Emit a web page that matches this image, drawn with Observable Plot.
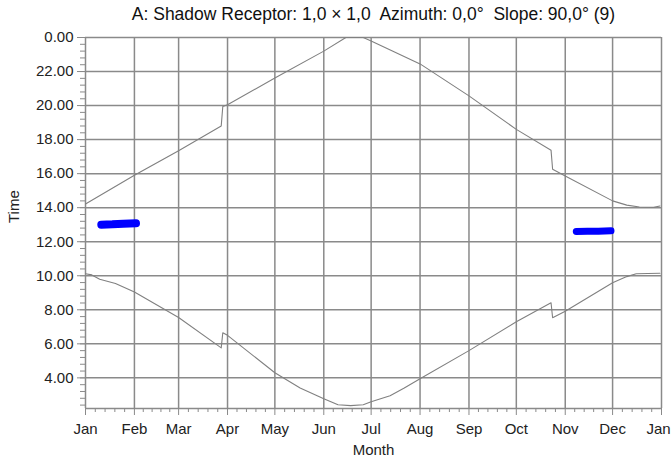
<!DOCTYPE html>
<html><head><meta charset="utf-8">
<script src="https://cdn.jsdelivr.net/npm/d3@7"></script>
<script src="https://cdn.jsdelivr.net/npm/@observablehq/plot@0.6"></script>
<style>
body{margin:0;background:#fff;}
#chart{width:672px;height:464px;}
</style>
</head><body><div id="chart"></div>
<script>
const titleText = "A: Shadow Receptor: 1,0 \u00d7 1,0  Azimuth: 0,0\u00b0  Slope: 90,0\u00b0 (9)";
const xLabel = "Month";
const yLabel = "Time";
const monthLabels = ["Jan","Feb","Mar","Apr","May","Jun","Jul","Aug","Sep","Oct","Nov","Dec","Jan"];
const monthStarts = ["2023-01-01","2023-02-01","2023-03-01","2023-04-01","2023-05-01","2023-06-01","2023-07-01","2023-08-01","2023-09-01","2023-10-01","2023-11-01","2023-12-01","2024-01-01"];
const yMajor = [4,6,8,10,12,14,16,18,20,22,24];
const yMajorLabels = ["4.00","6.00","8.00","10.00","12.00","14.00","16.00","18.00","20.00","22.00","0.00"];

// upper boundary (end time)
const upperDates = ["2023-01-01","2023-02-01","2023-03-01","2023-03-28","2023-03-29","2023-04-01","2023-05-01","2023-06-01","2023-06-15","2023-06-26","2023-07-01","2023-08-01","2023-09-01","2023-10-01","2023-10-23","2023-10-24","2023-11-01","2023-12-01","2023-12-10","2023-12-18","2023-12-27","2023-12-31"];
const upperTimes = [14.22,15.9,17.35,18.8,19.95,20.05,21.62,23.2,24,24,23.8,22.45,20.57,18.6,17.38,16.26,15.86,14.4,14.15,14.04,14.02,14.1];
// lower boundary (start time)
const lowerDates = ["2023-01-01","2023-01-05","2023-01-10","2023-01-20","2023-02-01","2023-03-01","2023-03-28","2023-03-29","2023-04-01","2023-05-01","2023-05-17","2023-06-01","2023-06-10","2023-06-18","2023-06-26","2023-07-01","2023-07-13","2023-07-22","2023-08-01","2023-09-01","2023-10-01","2023-10-23","2023-10-24","2023-11-01","2023-12-01","2023-12-10","2023-12-16","2023-12-31"];
const lowerTimes = [10.12,10.05,9.8,9.55,9.05,7.55,5.76,6.65,6.5,4.3,3.4,2.78,2.42,2.37,2.42,2.6,2.95,3.4,3.95,5.6,7.3,8.41,7.53,7.92,9.59,9.95,10.12,10.15];
// shadow periods
const flickerJanDates = ["2023-01-11","2023-01-18","2023-01-25","2023-02-02"];
const flickerJanTimes = [13.0,13.02,13.06,13.08];
const flickerNovDates = ["2023-11-08","2023-11-15","2023-11-22","2023-11-30"];
const flickerNovTimes = [12.6,12.61,12.62,12.64];

const P = s => new Date(s + "T00:00:00Z");
const zip = (ds, vs) => ds.map((d, i) => ({date: P(d), time: vs[i]}));
const upper = zip(upperDates, upperTimes);
const lower = zip(lowerDates, lowerTimes);
const flJan = zip(flickerJanDates, flickerJanTimes);
const flNov = zip(flickerNovDates, flickerNovTimes);

const monthTicks = monthStarts.map(P);
const lastTick = monthTicks[monthTicks.length - 1];
const xMinor = [];
for (let i = 0; i < monthTicks.length - 1; i++) {
  const a = +monthTicks[i], b = +monthTicks[i + 1];
  for (let k = 1; k < 5; k++) xMinor.push(new Date(a + (b - a) * k / 5));
}
const yMinor = d3.range(2.4, 23.99, 0.4);
const yBottom = 2.2;

const grid = "#8a8a8a";
const font = "Liberation Sans, Arial, sans-serif";

const chart = Plot.plot({
  width: 672, height: 464,
  marginLeft: 85, marginRight: 11, marginTop: 37, marginBottom: 56,
  style: {fontFamily: font, background: "#fff", color: "#222"},
  x: {type: "utc", domain: [monthTicks[0], lastTick]},
  y: {domain: [yBottom, 24]},
  marks: [
    Plot.gridX(monthTicks, {stroke: grid, strokeOpacity: 1, strokeWidth: 1.5}),
    Plot.gridY(yMajor, {stroke: grid, strokeOpacity: 1, strokeWidth: 1.5}),
    Plot.ruleY([yBottom], {stroke: grid, strokeWidth: 1.5}),
    Plot.axisX(monthTicks, {tickSize: 7, tickPadding: 8, stroke: grid, fill: "#222", fontSize: 15,
      tickFormat: d => (+d === +lastTick ? "" : monthLabels[monthTicks.findIndex(m => +m === +d)]), label: null}),
    Plot.text([lastTick], {x: d => d, text: () => monthLabels[monthLabels.length - 1], frameAnchor: "bottom",
      lineAnchor: "top", dy: 15, dx: -3, fontSize: 15, fill: "#222"}),
    Plot.axisX(xMinor, {tickSize: 4, stroke: grid, tickFormat: () => "", label: null}),
    Plot.axisY(yMajor, {tickSize: 8, tickPadding: 4, stroke: grid, fill: "#222", fontSize: 15,
      tickFormat: d => yMajorLabels[yMajor.indexOf(d)], label: null}),
    Plot.axisY(yMinor, {tickSize: 5, stroke: grid, tickFormat: () => "", label: null}),
    Plot.line(upper, {x: "date", y: "time", stroke: "#808080", strokeWidth: 1.1}),
    Plot.line(lower, {x: "date", y: "time", stroke: "#808080", strokeWidth: 1.1}),
    Plot.line(flJan, {x: "date", y: "time", stroke: "#0000ff", strokeWidth: 8, strokeLinecap: "round"}),
    Plot.line(flNov, {x: "date", y: "time", stroke: "#0000ff", strokeWidth: 7, strokeLinecap: "round"}),
    Plot.text([titleText], {text: d => d, frameAnchor: "top", lineAnchor: "middle", dy: -23, fontSize: 17.5, fill: "#111"}),
    Plot.text([yLabel], {text: d => d, frameAnchor: "left", lineAnchor: "middle", dx: -71, rotate: -90, fontSize: 15, fill: "#222"}),
    Plot.text([xLabel], {text: d => d, frameAnchor: "bottom", lineAnchor: "middle", dy: 42, fontSize: 15, fill: "#222"})
  ]
});
document.getElementById("chart").appendChild(chart);
</script>
</body></html>
